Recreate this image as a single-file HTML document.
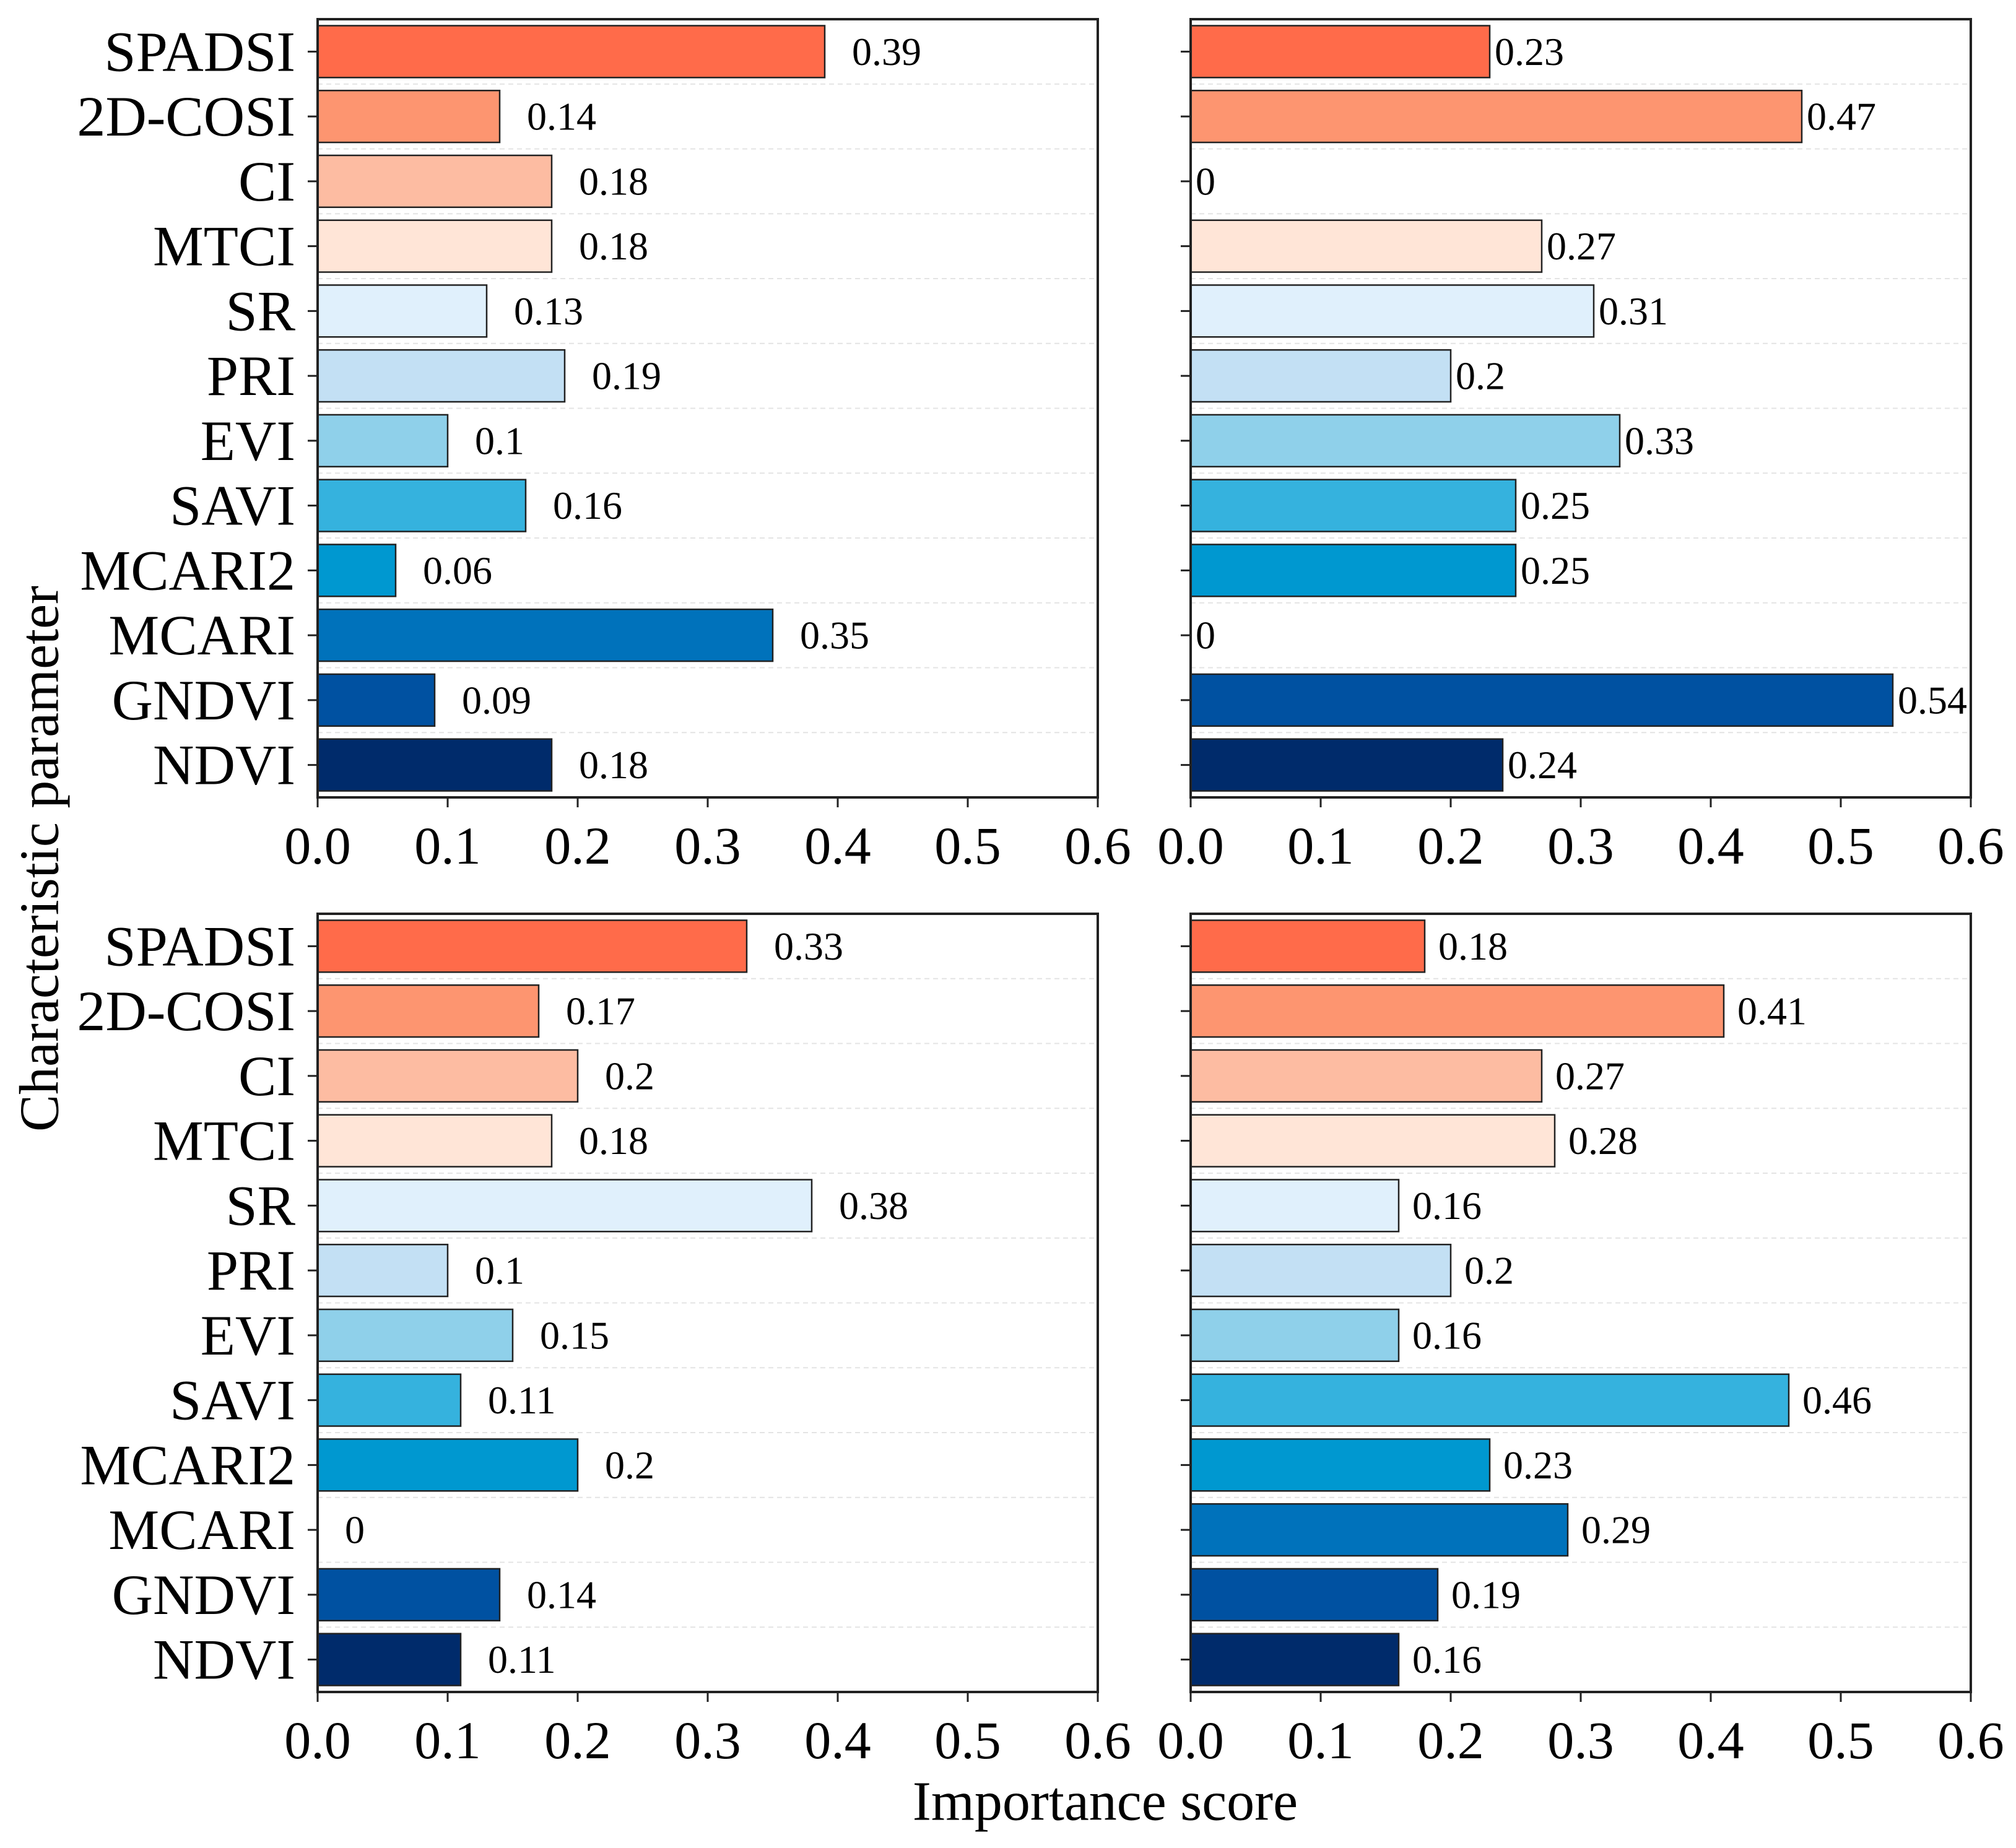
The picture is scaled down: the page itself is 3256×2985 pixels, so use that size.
<!DOCTYPE html>
<html><head><meta charset="utf-8">
<style>
html,body{margin:0;padding:0;background:#fff;}
svg{display:block;font-family:"Liberation Serif","DejaVu Serif",serif;}
</style></head>
<body>
<svg id="chart" width="3256" height="2985" viewBox="0 0 3256 2985" xmlns="http://www.w3.org/2000/svg">
<text x="0" y="0" transform="translate(64,1387) rotate(-90)" text-anchor="middle" dominant-baseline="central" font-size="90">Characteristic parameter</text>
<text x="1785" y="2910" text-anchor="middle" dominant-baseline="central" font-size="90">Importance score</text>
</svg>
<script>
const categories = ["SPADSI","2D-COSI","CI","MTCI","SR","PRI","EVI","SAVI","MCARI2","MCARI","GNDVI","NDVI"];
const colors = ["#ff6b4a","#fd9570","#fdbca2","#ffe5d7","#e0f0fc","#c3e0f4","#8fd0ea","#35b2de","#0098d0","#0072bb","#0051a1","#002b6b"];
const valuesTL = [0.39,0.14,0.18,0.18,0.13,0.19,0.1,0.16,0.06,0.35,0.09,0.18];
const valuesTR = [0.23,0.47,0,0.27,0.31,0.2,0.33,0.25,0.25,0,0.54,0.24];
const valuesBL = [0.33,0.17,0.2,0.18,0.38,0.1,0.15,0.11,0.2,0,0.14,0.11];
const valuesBR = [0.18,0.41,0.27,0.28,0.16,0.2,0.16,0.46,0.23,0.29,0.19,0.16];
const labelsTL = ["0.39","0.14","0.18","0.18","0.13","0.19","0.1","0.16","0.06","0.35","0.09","0.18"];
const labelsTR = ["0.23","0.47","0","0.27","0.31","0.2","0.33","0.25","0.25","0","0.54","0.24"];
const labelsBL = ["0.33","0.17","0.2","0.18","0.38","0.1","0.15","0.11","0.2","0","0.14","0.11"];
const labelsBR = ["0.18","0.41","0.27","0.28","0.16","0.2","0.16","0.46","0.23","0.29","0.19","0.16"];
const xTicks = [0,0.1,0.2,0.3,0.4,0.5,0.6];
const xTickLabels = ["0.0","0.1","0.2","0.3","0.4","0.5","0.6"];

const NS="http://www.w3.org/2000/svg";
const svg=document.getElementById('chart');
function mk(tag,attrs,parent){const e=document.createElementNS(NS,tag);for(const k in attrs)e.setAttribute(k,attrs[k]);(parent||svg).appendChild(e);return e;}

const panels=[
 {name:'top-left',x0:513,y0:31,vals:valuesTL,labs:labelsTL,gap:44,showCats:true},
 {name:'top-right',x0:1923,y0:31,vals:valuesTR,labs:labelsTR,gap:8,showCats:false},
 {name:'bottom-left',x0:513,y0:1476,vals:valuesBL,labs:labelsBL,gap:44,showCats:true},
 {name:'bottom-right',x0:1923,y0:1476,vals:valuesBR,labs:labelsBR,gap:22,showCats:false}
];
const W=1260,H=1257,XMAX=0.6;
panels.forEach(p=>{
  const g=mk('g',{});
  
  
  const xs=v=>p.x0+v/XMAX*W;
  const band=H/categories.length;
  const yc=i=>p.y0+band*(i+0.5);
  for(let i=1;i<categories.length;i++){
    const l=mk('line',{x1:p.x0,x2:p.x0+W,y1:p.y0+band*i,y2:p.y0+band*i,stroke:'#e4e4e4','stroke-width':2,'stroke-dasharray':'8,6'},g);
    
    
  }
  categories.forEach((c,i)=>{
    const v=p.vals[i];
    const bh=band*0.8;
    if(v>0){
      const r=mk('rect',{x:xs(0),y:yc(i)-bh/2,width:xs(v)-xs(0),height:bh,fill:colors[i],stroke:'#222','stroke-width':2.5},g);
      
      
    }
    const t=mk('text',{x:xs(v)+(v>0?p.gap:(p.gap>20?p.gap:8)),y:yc(i),'dominant-baseline':'central','font-size':64},g);
    t.textContent=p.labs[i];
    
    
    mk('line',{x1:p.x0-16,x2:p.x0,y1:yc(i),y2:yc(i),stroke:'#222','stroke-width':3},g);
    if(p.showCats){
      const ct=mk('text',{x:p.x0-36,y:yc(i),'text-anchor':'end','dominant-baseline':'central','font-size':92},g);
      ct.textContent=c;
      
      
    }
  });
  const fr=mk('rect',{x:p.x0,y:p.y0,width:W,height:H,fill:'none',stroke:'#222','stroke-width':4},g);
  
  
  xTicks.forEach((v,k)=>{
    mk('line',{x1:xs(v),x2:xs(v),y1:p.y0+H,y2:p.y0+H+16,stroke:'#222','stroke-width':3},g);
    const tt=mk('text',{x:xs(v),y:p.y0+H+78,'text-anchor':'middle','dominant-baseline':'central','font-size':86},g);
    tt.textContent=xTickLabels[k];
    
    
  });
});
</script>
</body></html>
